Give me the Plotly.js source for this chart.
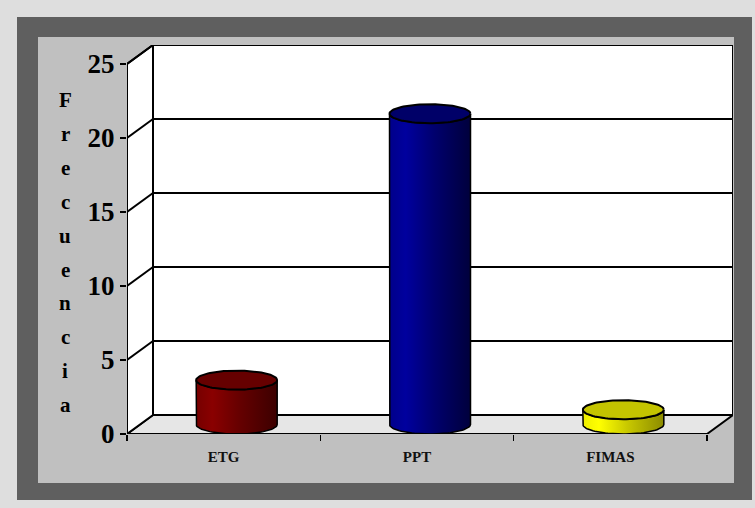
<!DOCTYPE html>
<html>
<head>
<meta charset="utf-8">
<script src="https://cdn.plot.ly/plotly-3.0.1.min.js"></script>
<style>html,body{margin:0;padding:0;background:#dedede;}</style>
</head>
<body>
<div id="chart" style="width:755px;height:508px;"></div>
<script>
// ---- data ----
const categories = ['ETG', 'PPT', 'FIMAS'];
const values = [3, 21, 1];
const yTickVals = [0, 5, 10, 15, 20, 25];
const yTitleText = 'Frecuencia';

// ---- styles ----
const bodyScales = [
  [[0, '#760000'], [0.2, '#8a0000'], [0.55, '#640000'], [1, '#3c0000']],
  [[0, '#00008a'], [0.2, '#00009e'], [0.55, '#00006e'], [1, '#00003c']],
  [[0, '#eeee00'], [0.2, '#ffff00'], [0.55, '#c8c800'], [1, '#8c8c00']]
];
const bodyColors = ['#700000', '#000080', '#d0d000'];
const topColors = ['#660000', '#000068', '#c4c400'];
const serif = 'Liberation Serif, Times New Roman, serif';

// ---- geometry (pixels) ----
const W = 755, H = 508, L = 127, R = 22, T = 45, B = 74;
const PW = W - L - R, PH = H - T - B;
const frontW = 580, frontH = 370;           // front face of the 3D box
const nCat = categories.length;
const yMax = 25;
const pxX = frontW / nCat, pxY = frontH / yMax;
const DX = (PW - frontW) / pxX, DY = (PH - frontH) / pxY; // depth in data units
const xRange = [-0.5, -0.5 + PW / pxX];
const yRange = [0, PH / pxY];
const A = 40.5 / pxX, Bq = 9.5 / pxY;        // cylinder radius (x) and ellipse half-height (y)

function px(x) { return (x - L) / PW; }
function py(y) { return (H - B - y) / PH; }

const shapes = [];
// outer frame
shapes.push({type: 'rect', xref: 'paper', yref: 'paper', layer: 'below',
  x0: px(17), x1: px(752), y0: py(500), y1: py(17), fillcolor: '#5f5f5f', line: {width: 0}});
shapes.push({type: 'rect', xref: 'paper', yref: 'paper', layer: 'below',
  x0: px(38), x1: px(734), y0: py(483), y1: py(37), fillcolor: '#c0c0c0', line: {width: 0}});

const x0 = xRange[0], x1 = x0 + nCat;
// floor
shapes.push({type: 'path', xref: 'x', yref: 'y', layer: 'below',
  path: `M ${x0},0 L ${x1},0 L ${x1 + DX},${DY} L ${x0 + DX},${DY} Z`,
  fillcolor: '#e6e6e6', line: {color: 'black', width: 2}});
// left wall
shapes.push({type: 'path', xref: 'x', yref: 'y', layer: 'below',
  path: `M ${x0},0 L ${x0 + DX},${DY} L ${x0 + DX},${yMax + DY} L ${x0},${yMax} Z`,
  fillcolor: 'white', line: {color: 'black', width: 2}});
// back wall
shapes.push({type: 'rect', xref: 'x', yref: 'y', layer: 'below',
  x0: x0 + DX, x1: x1 + DX, y0: DY, y1: yMax + DY,
  fillcolor: 'white', line: {color: 'black', width: 2}});
// grid lines
yTickVals.forEach(v => {
  if (v === 0) return;
  shapes.push({type: 'line', xref: 'x', yref: 'y', layer: 'below',
    x0: x0 + DX, x1: x1 + DX, y0: v + DY, y1: v + DY, line: {color: 'black', width: 2}});
  shapes.push({type: 'line', xref: 'x', yref: 'y', layer: 'below',
    x0: x0, x1: x0 + DX, y0: v, y1: v + DY, line: {color: 'black', width: 2}});
});
// front y axis line
shapes.push({type: 'line', xref: 'x', yref: 'y', layer: 'below',
  x0: x0, x1: x0, y0: -0.15, y1: yMax, line: {color: 'black', width: 2}});

// ---- traces ----
const traces = [];
const base = DY / 2;
traces.push({
  type: 'bar', x: categories.map((c, i) => i), y: values, base: base,
  width: 2 * A, offset: DX / 2 - A,
  marker: {color: bodyColors, line: {width: 0}},
  hoverinfo: 'skip', showlegend: false
});

const N = 48;
values.forEach((v, i) => {
  const cx = i + DX / 2, top = v + base;
  const bx = [cx - A], by = [top];
  for (let k = 0; k <= N; k++) {
    const t = Math.PI + Math.PI * k / N;
    bx.push(cx + A * Math.cos(t)); by.push(base + Bq * Math.sin(t));
  }
  bx.push(cx + A); by.push(top);
  for (let k = 0; k <= N; k++) {
    const t = 2 * Math.PI - Math.PI * k / N;
    bx.push(cx + A * Math.cos(t)); by.push(top + Bq * Math.sin(t));
  }
  traces.push({
    type: 'scatter', mode: 'lines', x: bx, y: by, fill: 'toself',
    fillgradient: {type: 'horizontal', colorscale: bodyScales[i]},
    line: {color: 'black', width: 1.5}, hoverinfo: 'skip', showlegend: false
  });
  const ex = [], ey = [];
  for (let k = 0; k <= 2 * N; k++) {
    const t = Math.PI * k / N;
    ex.push(cx + A * Math.cos(t)); ey.push(top + Bq * Math.sin(t));
  }
  traces.push({
    type: 'scatter', mode: 'lines', x: ex, y: ey, fill: 'toself',
    fillcolor: topColors[i], line: {color: 'black', width: 2},
    hoverinfo: 'skip', showlegend: false
  });
});
// dummy trace for the boundary-tick axis
traces.push({type: 'scatter', x: [], y: [], xaxis: 'x2', yaxis: 'y', showlegend: false, hoverinfo: 'skip'});

// y title letters
const annotations = [];
yTitleText.split('').forEach((ch, k) => {
  annotations.push({
    xref: 'paper', yref: 'paper', x: px(65), y: py(100 + k * 33.9),
    text: ch, showarrow: false, xanchor: 'center', yanchor: 'middle',
    font: {family: serif, size: 21, weight: 'bold', color: 'black'}
  });
});

const layout = {
  width: W, height: H,
  margin: {l: L, r: R, t: T, b: B, pad: 0},
  paper_bgcolor: '#dedede', plot_bgcolor: 'rgba(0,0,0,0)',
  showlegend: false,
  xaxis: {
    range: xRange, tickvals: categories.map((c, i) => i), ticktext: categories,
    showgrid: false, zeroline: false, showline: false, ticks: '',
    ticklabelstandoff: 12,
    tickfont: {family: serif, size: 15, weight: 'bold', color: '#111'}, fixedrange: true
  },
  xaxis2: {
    overlaying: 'x', anchor: 'y', side: 'bottom', range: xRange,
    tickvals: Array.from({length: nCat + 1}, (_, k) => k - 0.5),
    ticks: 'outside', ticklen: 6, tickwidth: 1.5, tickcolor: 'black',
    showticklabels: false, showgrid: false, zeroline: false, showline: false
  },
  yaxis: {
    range: yRange, tickvals: yTickVals, ticks: 'outside', ticklen: 6, tickwidth: 2,
    tickcolor: 'black', showgrid: false, zeroline: false, showline: false,
    automargin: false,
    tickfont: {family: serif, size: 27, weight: 'bold', color: 'black'}, fixedrange: true
  },
  shapes: shapes,
  annotations: annotations
};

Plotly.newPlot('chart', traces, layout, {staticPlot: true, displayModeBar: false});
</script>
</body>
</html>
